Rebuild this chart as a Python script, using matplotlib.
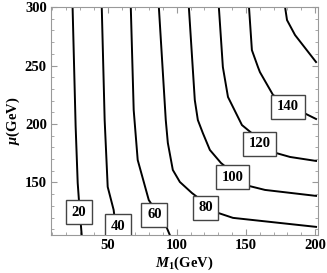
import matplotlib
matplotlib.use('Agg')
import matplotlib.pyplot as plt
from matplotlib.ticker import MultipleLocator

plt.rcParams['font.family'] = 'Liberation Serif'
plt.rcParams['mathtext.fontset'] = 'custom'
plt.rcParams['mathtext.rm'] = 'Liberation Serif:bold'
plt.rcParams['mathtext.bf'] = 'Liberation Serif:bold'
plt.rcParams['mathtext.it'] = 'Liberation Serif:italic:bold'
plt.rcParams['mathtext.bfit'] = 'Liberation Serif:italic:bold'

# contour levels and the lines (M1, mu)
levels = [20, 40, 60, 80, 100, 120, 140, 160]
m1_lines = [
    [24.6, 26.8, 28.3, 29.7, 31.2],
    [45.7, 47.8, 50.0, 54.3, 56.5],
    [66.7, 68.8, 71.7, 79.7, 92.8, 94.9],
    [87.0, 92.0, 93.5, 97.1, 102.2, 110.9, 129.7, 140.6, 200.7],
    [108.7, 113.0, 115.2, 118.8, 123.9, 131.9, 152.2, 163.8, 200.7],
    [130.4, 133.3, 137.0, 147.1, 151.4, 171.7, 181.9, 200.7],
    [152.2, 154.3, 158.7, 160.1, 169.6, 192.0, 200.7],
    [178.3, 179.7, 185.5, 200.7],
]
mu_lines = [
    [300, 198.3, 149.6, 126.5, 105.1],
    [300, 203.4, 146.2, 126.5, 105.1],
    [300, 212.0, 169.2, 135.0, 111.1, 105.1],
    [300, 203.4, 183.8, 160.7, 150.4, 141.0, 124.0, 119.7, 112.0],
    [300, 220.5, 203.4, 192.3, 177.8, 166.7, 147.0, 143.6, 138.5],
    [300, 248.7, 223.1, 199.1, 194.9, 175.2, 171.8, 168.4],
    [300, 263.2, 248.7, 244.4, 224.8, 209.4, 204.3],
    [300, 288.9, 276.1, 253.0],
]
# label spots (M1, mu)
label_m1 = [29.3, 57.2, 83.7, 120.7, 140.6, 160.1, 180.4]
label_mu = [124.6, 112.5, 122.4, 128.4, 154.3, 183.2, 214.7]

fig = plt.figure(figsize=(3.27, 2.73), dpi=100)
ax = fig.add_axes([0.156, 0.139, 0.816, 0.835])

for xs, ys in zip(m1_lines, mu_lines):
    ax.plot(xs, ys, color='black', lw=1.4, zorder=2)

for lev, lx, ly in zip(levels, label_m1, label_mu):
    ax.text(lx, ly, str(lev), ha='center', va='center', fontsize=10.5,
            fontweight='bold', zorder=3, clip_on=True,
            bbox=dict(boxstyle='square,pad=0.38', fc='white', ec='#444444', lw=1.0))

ax.set_xlim(9, 202)
ax.set_ylim(105, 300)
ax.xaxis.set_major_locator(MultipleLocator(50))
ax.xaxis.set_minor_locator(MultipleLocator(10))
ax.yaxis.set_major_locator(MultipleLocator(50))
ax.yaxis.set_minor_locator(MultipleLocator(10))
ax.tick_params(which='both', direction='in', top=True, right=True, color='#999999')
ax.tick_params(which='major', length=4, width=0.8, labelsize=10.5, pad=3)
ax.tick_params(which='minor', length=2, width=0.6)
for lab in ax.get_xticklabels() + ax.get_yticklabels():
    lab.set_fontweight('bold')
for sp in ax.spines.values():
    sp.set_color('#999999')
    sp.set_linewidth(0.8)

ax.set_xlabel(r'$\mathbfit{M}_\mathbf{1}$(GeV)', fontsize=10.5, fontweight='bold', labelpad=2)
ax.set_ylabel(r'$\mathbfit{\mu}$(GeV)', fontsize=10.5, fontweight='bold', labelpad=2)

fig.savefig('out.png', dpi=100)
